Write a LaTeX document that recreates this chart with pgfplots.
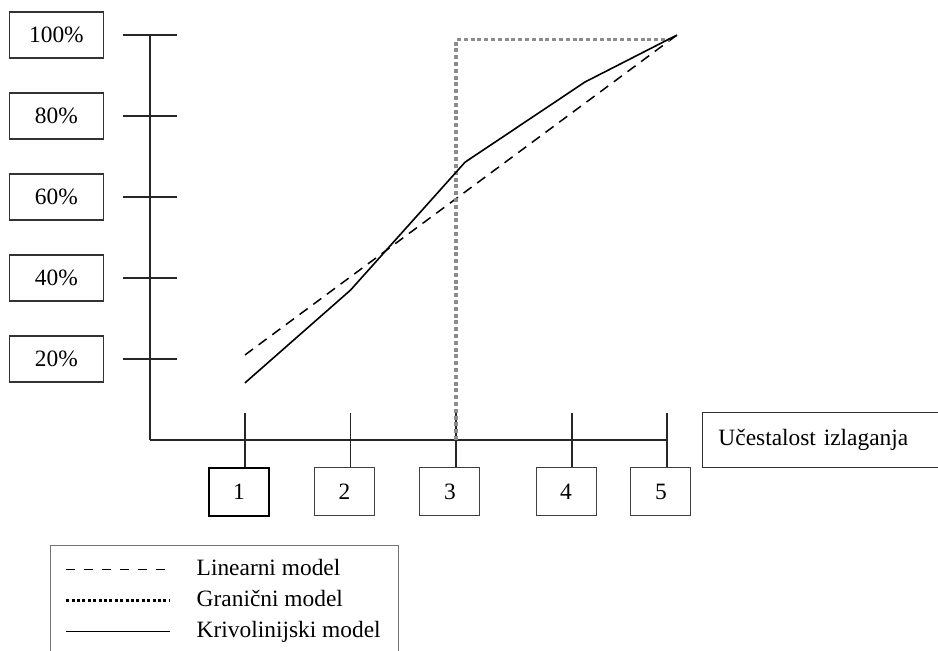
\documentclass[border=0pt]{standalone}
\usepackage{pgfplots}
\pgfplotsset{compat=1.18}
\usepackage{fontspec}
\setmainfont{Liberation Serif}

\begin{document}
\fontsize{11.7}{14}\selectfont
\begin{tikzpicture}
\path[use as bounding box] (0,0) rectangle (469pt,-325pt);
\begin{axis}[
    at={(75pt,-220pt)},
    anchor=south west,
    scale only axis,
    width=258.5pt,
    height=202.5pt,
    xmin=0.1, xmax=5,
    ymin=0, ymax=100,
    clip=false,
    axis x line=bottom,
    axis y line=left,
    axis line style={-, line width=0.9pt, black!85},
    tick style={line width=0.9pt, black!85},
    tick align=center,
    major tick length=27pt,
    xtick={2,3,4.1,5},
    xticklabels={2,3,4,5},
    extra x ticks={1},
    extra x tick labels={1},
    extra x tick style={xticklabel style={line width=1.1pt, draw=black}},
    ytick={20,40,60,80,100},
    yticklabels={20\%,40\%,60\%,80\%,100\%},
    xticklabel style={draw=black!75, line width=0.5pt, minimum width=30pt, minimum height=24pt,
        anchor=north, xshift=-3pt, yshift=0pt},
    yticklabel style={draw=black!80, line width=0.6pt, minimum width=47pt, minimum height=23pt,
        anchor=east, xshift=-9.5pt},
    xlabel={Učestalost izlaganja},
    xlabel style={at={(axis description cs:1.0677,0)}, anchor=west, draw=black!80, line width=0.5pt,
        minimum height=27.5pt, inner xsep=8pt, text width=102pt, align=left},
    legend style={at={(axis description cs:-0.193,-0.259)}, anchor=north west,
        draw=black!55, line width=0.5pt, inner xsep=7pt, inner ysep=6pt,
        row sep=3.5pt, legend cell align=left,
        /tikz/every odd column/.append style={column sep=10.5pt},
        nodes={inner ysep=0pt, inner xsep=2pt, text height=9pt, text depth=3pt}},
    legend image code/.code={\draw[#1] (0pt,0pt) -- (52pt,0pt);},
]

% Linearni model
\addplot[forget plot, black, line width=0.75pt, dash pattern=on 5pt off 3.5pt] coordinates {
    (1, 21.0)
    (5.095, 100)
};

% Granicni model
\addplot[forget plot, black!45, line width=1.6pt, dash pattern=on 2pt off 1.4pt] coordinates {
    (3.0, 0)
    (3.0, 98.8)
    (5.03, 98.8)
};

% Krivolinijski model
\addplot[forget plot, black, line width=0.8pt] coordinates {
    (1, 14.1)
    (2.0, 37.0)
    (3.086, 68.6)
    (4.223, 88.4)
    (5.095, 100)
};

\addlegendimage{black, line width=0.75pt, dash pattern=on 4.5pt off 4.5pt}
\addlegendentry{Linearni model}
\addlegendimage{black, line width=1.5pt, dash pattern=on 1.5pt off 1.2pt}
\addlegendentry{Granični model}
\addlegendimage{black, line width=0.75pt}
\addlegendentry{Krivolinijski model}

\end{axis}
\end{tikzpicture}
\end{document}
